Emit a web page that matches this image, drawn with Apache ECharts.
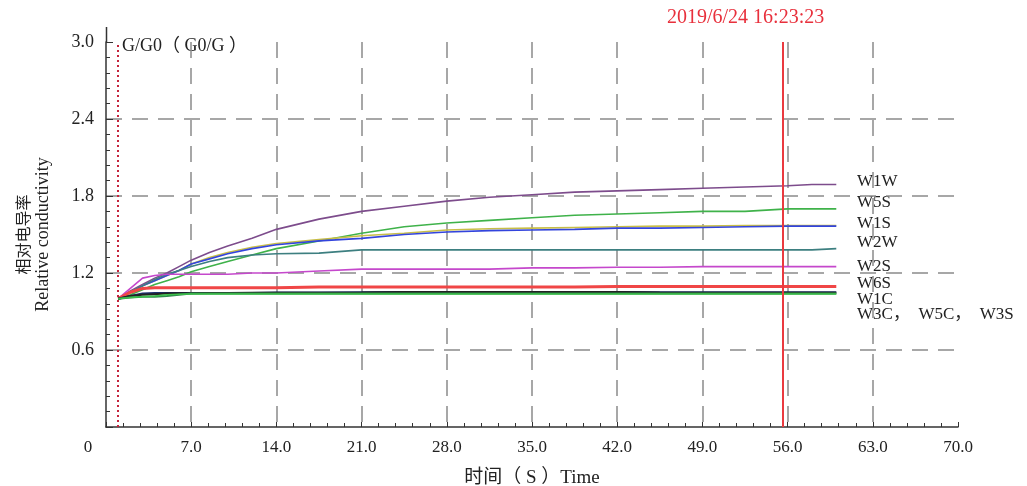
<!DOCTYPE html>
<html>
<head>
<meta charset="utf-8">
<script src="https://cdn.jsdelivr.net/npm/echarts@6/dist/echarts.min.js"></script>
<style>
  html, body { margin: 0; padding: 0; background: #fff; }
  #main { width: 1027px; height: 486px; }
</style>
</head>
<body>
<div id="main"></div>
<script>
// time (s)
var times = [1, 2, 3, 4, 5, 6, 7, 8.5, 10, 12, 14, 17.5, 21, 24.5, 28, 31.5, 35, 38.5, 42, 45.5, 49, 52.5, 56, 58, 60];

// relative conductivity G/G0 per sample
var w1w = [1.00, 1.06, 1.11, 1.16, 1.20, 1.25, 1.30, 1.36, 1.41, 1.47, 1.54, 1.62, 1.68, 1.72, 1.76, 1.79, 1.81, 1.83, 1.84, 1.85, 1.86, 1.87, 1.88, 1.89, 1.89];
var w5s = [1.00, 1.03, 1.07, 1.11, 1.14, 1.17, 1.21, 1.25, 1.29, 1.34, 1.39, 1.45, 1.51, 1.56, 1.59, 1.61, 1.63, 1.65, 1.66, 1.67, 1.68, 1.68, 1.70, 1.70, 1.70];
var w3w = [1.00, 1.05, 1.10, 1.14, 1.18, 1.22, 1.27, 1.32, 1.36, 1.40, 1.43, 1.46, 1.49, 1.51, 1.535, 1.545, 1.55, 1.555, 1.56, 1.565, 1.565, 1.57, 1.57, 1.57, 1.57];
var w1s = [1.00, 1.05, 1.10, 1.14, 1.18, 1.22, 1.27, 1.31, 1.35, 1.39, 1.42, 1.45, 1.47, 1.50, 1.52, 1.53, 1.535, 1.54, 1.55, 1.55, 1.555, 1.56, 1.565, 1.565, 1.565];
var w2w = [1.00, 1.05, 1.10, 1.15, 1.19, 1.22, 1.25, 1.29, 1.32, 1.34, 1.35, 1.355, 1.38, 1.38, 1.38, 1.38, 1.38, 1.38, 1.38, 1.38, 1.38, 1.38, 1.38, 1.38, 1.39];
var w2s = [1.00, 1.08, 1.16, 1.18, 1.19, 1.19, 1.19, 1.19, 1.19, 1.20, 1.20, 1.215, 1.23, 1.23, 1.23, 1.23, 1.24, 1.24, 1.245, 1.245, 1.25, 1.25, 1.25, 1.25, 1.25];
var w6s = [1.00, 1.05, 1.08, 1.085, 1.085, 1.085, 1.085, 1.085, 1.085, 1.085, 1.085, 1.09, 1.09, 1.09, 1.09, 1.09, 1.09, 1.09, 1.095, 1.095, 1.095, 1.095, 1.095, 1.095, 1.095];
var w1c = [1.00, 1.02, 1.04, 1.044, 1.044, 1.044, 1.045, 1.045, 1.045, 1.045, 1.048, 1.048, 1.05, 1.052, 1.052, 1.052, 1.052, 1.052, 1.052, 1.05, 1.05, 1.05, 1.05, 1.05, 1.05];
var w3c = [1.00, 1.02, 1.03, 1.035, 1.04, 1.042, 1.042, 1.044, 1.044, 1.046, 1.046, 1.046, 1.048, 1.052, 1.052, 1.052, 1.052, 1.052, 1.052, 1.048, 1.046, 1.046, 1.046, 1.046, 1.046];
var w5c = [1.00, 1.01, 1.015, 1.015, 1.02, 1.03, 1.04, 1.04, 1.04, 1.04, 1.04, 1.04, 1.04, 1.04, 1.04, 1.04, 1.04, 1.04, 1.04, 1.04, 1.04, 1.04, 1.04, 1.04, 1.04];
var w3s = [1.00, 1.01, 1.015, 1.02, 1.03, 1.035, 1.037, 1.037, 1.037, 1.037, 1.037, 1.037, 1.037, 1.037, 1.037, 1.037, 1.037, 1.037, 1.037, 1.037, 1.037, 1.037, 1.037, 1.037, 1.037];

// axis ticks
var xTicks = [0, 7, 14, 21, 28, 35, 42, 49, 56, 63, 70];
var yTicks = [0, 0.6, 1.2, 1.8, 2.4, 3.0];

// marker lines
var startTime = 1;
var cursorTime = 55.6;
var cursorLabel = '2019/6/24 16:23:23';

// right-hand labels
var endLabels = ['W1W', 'W5S', 'W1S', 'W2W', 'W2S', 'W6S', 'W1C', 'W3C，  W5C，  W3S'];
var endLabelY = [183, 204, 225, 244, 268, 285, 301, 316];

var FONT = "'Liberation Serif', 'Noto Sans CJK SC', serif";

function pairs(vals) {
  return times.map(function (t, i) { return [t, vals[i]]; });
}

var seriesDefs = [
  { name: 'W1W', data: w1w, color: '#7d4c8c' },
  { name: 'W5S', data: w5s, color: '#3fb24a' },
  { name: 'W3W', data: w3w, color: '#c8be48' },
  { name: 'W1S', data: w1s, color: '#3344dd' },
  { name: 'W2W', data: w2w, color: '#3d7f80' },
  { name: 'W2S', data: w2s, color: '#c548cc' },
  { name: 'W6S', data: w6s, color: '#f04646', width: 3 },
  { name: 'W1C', data: w1c, color: '#1c2f6e', width: 2 },
  { name: 'W3C', data: w3c, color: '#222222', width: 2 },
  { name: 'W5C', data: w5c, color: '#2e8a4a', width: 2 },
  { name: 'W3S', data: w3s, color: '#3cc04a', width: 1.5 }
];

var series = seriesDefs.map(function (s) {
  return {
    name: s.name,
    type: 'line',
    data: pairs(s.data),
    showSymbol: false,
    lineStyle: { color: s.color, width: s.width || 1.6 },
    itemStyle: { color: s.color },
    z: 3
  };
});

// marker lines on a helper series
series.push({
  type: 'line',
  data: [],
  markLine: {
    silent: true,
    symbol: ['none', 'none'],
    label: { show: false },
    data: [
      { xAxis: startTime, lineStyle: { color: '#c4243c', type: [2, 3], width: 2 } },
      { xAxis: cursorTime, lineStyle: { color: '#ea3a40', type: 'solid', width: 2 } }
    ]
  },
  z: 4
});

var graphics = [
  {
    type: 'text', left: 122, top: 37,
    style: { text: 'G/G0（ G0/G ）', font: '18px ' + FONT, fill: '#222' }
  },
  {
    type: 'text', left: 667, top: 8,
    style: { text: cursorLabel, font: '20px ' + FONT, fill: '#e8303c' }
  },
  // axis line continues a little above 3.0
  {
    type: 'line', shape: { x1: 106.5, y1: 27, x2: 106.5, y2: 42 },
    style: { stroke: '#333', lineWidth: 1.5 }
  }
];
endLabels.forEach(function (txt, i) {
  graphics.push({
    type: 'text', left: 857, top: endLabelY[i] - 10,
    style: { text: txt, font: '17px ' + FONT, fill: '#222' }
  });
});

var gridLine = { color: '#8a8a8a', type: [16, 10], width: 1.5 };

var option = {
  animation: false,
  backgroundColor: '#fff',
  grid: { left: 106, right: 69, top: 42, bottom: 59, outerBoundsMode: 'none', containLabel: false },
  xAxis: {
    type: 'value',
    min: xTicks[0],
    max: xTicks[xTicks.length - 1],
    interval: xTicks[1] - xTicks[0],
    name: '时间（ S ）Time',
    nameLocation: 'middle',
    nameGap: 42,
    nameTextStyle: { fontFamily: FONT, fontSize: 19, color: '#222' },
    axisLine: { lineStyle: { color: '#333', width: 1.5 } },
    axisTick: { inside: true, length: 5, lineStyle: { color: '#333' } },
    minorTick: { show: true, splitNumber: 5, length: 4, lineStyle: { color: '#333' } },
    axisLabel: {
      fontFamily: FONT, fontSize: 17, color: '#222', margin: 12,
      formatter: function (v) { return v === 0 ? '{z|0}' : v.toFixed(1); },
      rich: { z: { fontFamily: FONT, fontSize: 17, color: '#222', padding: [0, 36, 0, 0] } }
    },
    splitLine: { show: true, showMinLine: false, showMaxLine: false, lineStyle: gridLine }
  },
  yAxis: {
    type: 'value',
    min: yTicks[0],
    max: yTicks[yTicks.length - 1],
    interval: yTicks[1] - yTicks[0],
    name: '{cn|相对电导率}\n{en|Relative conductivity}',
    nameLocation: 'middle',
    nameGap: 53,
    nameRotate: 90,
    nameTextStyle: {
      fontFamily: FONT, color: '#222',
      rich: {
        cn: { fontFamily: FONT, fontSize: 16, color: '#222', lineHeight: 19 },
        en: { fontFamily: FONT, fontSize: 18, color: '#222', lineHeight: 19 }
      }
    },
    axisLine: { show: true, lineStyle: { color: '#333', width: 1.5 } },
    axisTick: { show: true, inside: true, length: 7, lineStyle: { color: '#333' } },
    minorTick: { show: true, splitNumber: 5, length: 4, lineStyle: { color: '#333' } },
    axisLabel: {
      fontFamily: FONT, fontSize: 18, color: '#222', margin: 12,
      formatter: function (v) { return v === 0 ? '' : v.toFixed(1); }
    },
    splitLine: { show: true, showMinLine: false, showMaxLine: false, lineStyle: gridLine }
  },
  graphic: graphics,
  series: series
};

var chart = echarts.init(document.getElementById('main'));
chart.setOption(option);
</script>
</body>
</html>
